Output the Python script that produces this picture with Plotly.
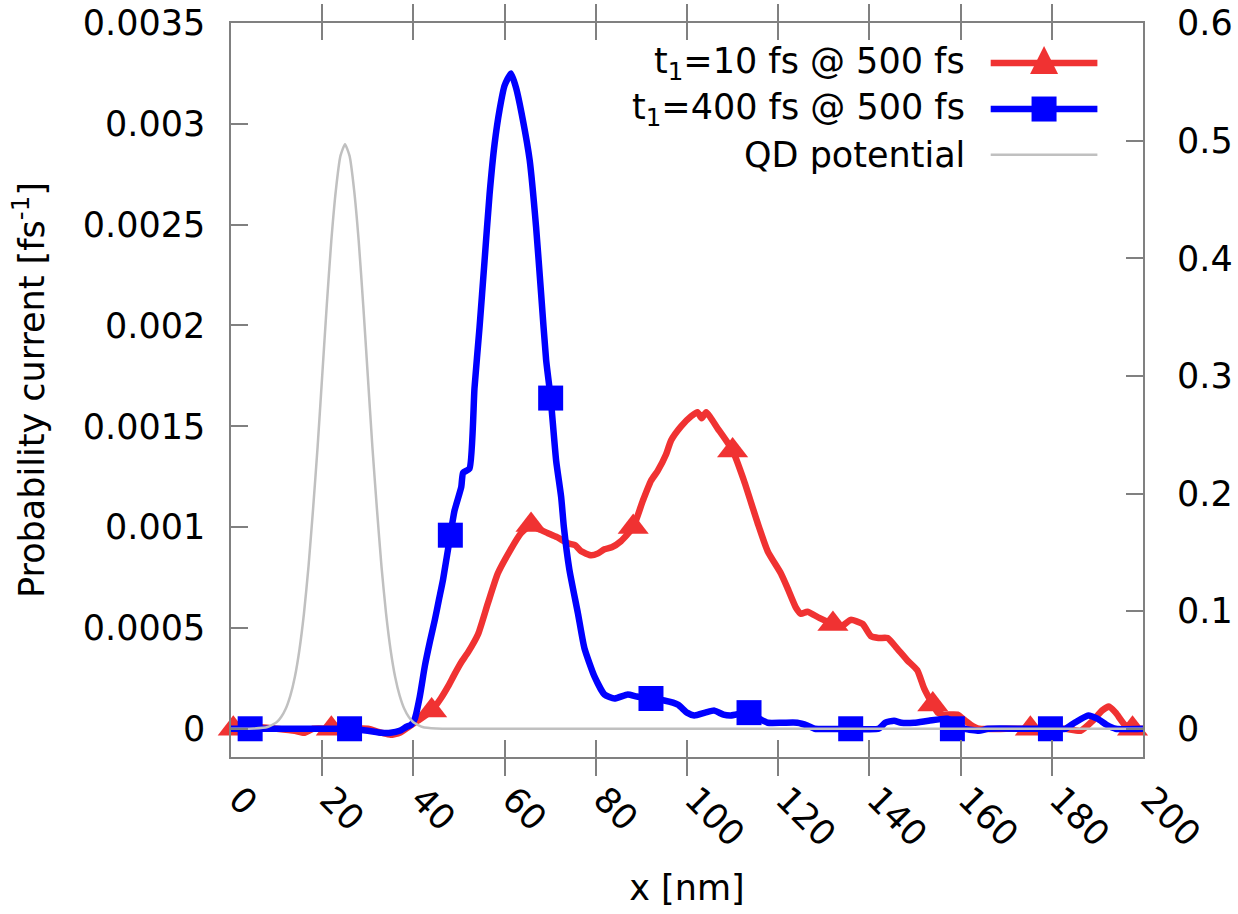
import plotly.graph_objects as go

# ---------------- data ----------------
red_x = [0, 5, 10, 14, 16, 18, 22, 26, 30, 33, 35, 37, 39, 41, 44, 46, 47.6, 49, 50.5, 52,
         54.2, 56.3, 58.5, 61.1, 63.6, 65.8, 67.5, 69.5, 71.5, 73.9, 75.5, 76.8, 79, 80.5,
         81.9, 83.5, 85.5, 88.2, 90.3, 92.1, 93.6, 95.4, 96.5, 98.7, 100.9, 102.3, 103.2,
         104.2, 106.7, 110, 112.5, 115.5, 117.7, 120.6, 122, 123.9, 125, 126.4, 129, 132,
         134, 135.9, 138.5, 140.3, 142, 144, 146, 148.3, 150.5, 152, 153.9, 155, 156.3,
         159.3, 161, 162.2, 164, 170, 176, 180, 183, 186.3, 189, 191, 192.5, 194, 196, 198, 200]
red_y = [0, 0.00001, 0.0, -0.00001, -0.00002, 0.0, 0.0, 0.0, 0.0, -0.00002, -0.00003, -0.00002,
         0.00001, 0.00004, 0.00009, 0.00015, 0.00021, 0.00027, 0.00033, 0.00038,
         0.00047, 0.00062, 0.00077, 0.00088, 0.00097, 0.00101, 0.00099, 0.00097, 0.00095,
         0.00092, 0.00091, 0.00088, 0.00086, 0.00087, 0.00089, 0.00090, 0.00093, 0.00100,
         0.00113, 0.00123, 0.00128, 0.00136, 0.00143, 0.00150, 0.00155, 0.00157, 0.00154,
         0.00157, 0.00149, 0.00138, 0.00123, 0.00102, 0.00088, 0.00077, 0.00070, 0.00060,
         0.00057, 0.00058, 0.00055, 0.00052, 0.00051, 0.00054, 0.00052, 0.00046, 0.00045,
         0.00045, 0.00040, 0.00034, 0.00029, 0.00020, 0.00012, 0.00008, 0.00007, 0.00007,
         0.00004, 0.00002, 0.0, 0.0, 0.0, 0.0, 0.0, -0.00001, 0.00004, 0.00009, 0.00011,
         0.00008, 0.00002, 0.0, 0.0]
red_mark_x = [0.5, 22, 44, 65.8, 88.2, 110, 132, 153.9, 175.3, 197.7]
red_mark_y = [0.0, 0.0, 0.00009, 0.00101, 0.00100, 0.00138, 0.00052, 0.00012, 0.0, 0.0]

blue_x = [0, 10, 20, 26, 30, 33, 35, 37, 38.5, 39.5, 40.3, 41.4, 42.5, 43.6, 44.7, 45.6, 46.5,
          48.1, 49, 50.5, 50.9, 52.3, 53.4, 54.5, 55.6, 56.7, 57.8, 58.9, 60, 61.4, 62.5,
          64, 65.5, 66.9, 68, 69.1, 70.1, 71.3, 72.4, 73, 74.2, 76.1, 77.5, 79.7, 81.9, 84.1,
          87, 89, 92.1, 95, 98, 100, 101.6, 104, 106, 108, 109.6, 113.6, 115, 117.7, 121,
          124.2, 126.4, 128, 135.9, 142, 143.5, 145.4, 147, 149.8, 153, 157.1, 159, 161, 164,
          166, 175, 179.7, 183, 185, 188, 190, 192, 194, 200]
blue_y = [0, 0, 0, 0, -0.00001, -0.00002, -0.00002, -0.00001, 0.00001, 0.00002, 0.00005,
          0.00016, 0.00031, 0.00043, 0.00054, 0.00064, 0.00074, 0.00096, 0.00108, 0.00120,
          0.00127, 0.00129, 0.00169, 0.00199, 0.00232, 0.00265, 0.00290, 0.00307, 0.00319,
          0.00325, 0.00318, 0.00302, 0.00282, 0.00249, 0.00216, 0.00183, 0.00164, 0.00133,
          0.00115, 0.00100, 0.00079, 0.00057, 0.00040, 0.00026, 0.00017, 0.00015, 0.00017,
          0.00016, 0.00015, 0.00014, 0.00012, 0.00008, 0.000066, 0.00008, 0.00009, 0.00007,
          0.000066, 0.00008, 0.00006, 0.00003, 0.00003, 0.00003, 0.000016, 0.0, 0.0, 0.0,
          0.00003, 0.00004, 0.00003, 0.00003, 0.00004, 0.00005, 0.00002, 0.0, -0.00001, 0.0,
          0.0, 0.0, 0.0, 0.00003, 0.000066, 0.00005, 0.00002, 0.0, 0.0]
blue_mark_x = [4.2, 26, 48.1, 70.1, 92.1, 113.6, 135.9, 158.2, 179.7]
blue_mark_y = [0.0, 0.0, 0.00096, 0.00164, 0.00015, 0.00008, 0.0, 0.0, 0.0]

qd_x = [0, 5, 8, 10, 11, 12, 13, 14, 15, 16, 17, 18, 19, 20, 21, 22, 23, 24, 25,
        26, 27, 28, 29, 30, 31, 32, 33, 34, 35, 36, 37, 38, 39, 40, 42, 45, 50, 200]
qd_y = [0.0, 0.0002, 0.0015, 0.0055, 0.010, 0.017, 0.028, 0.044, 0.067, 0.098, 0.138,
        0.187, 0.240, 0.300, 0.360, 0.415, 0.458, 0.487, 0.497,
        0.487, 0.458, 0.415, 0.360, 0.300, 0.240, 0.187, 0.138, 0.098, 0.067, 0.044,
        0.028, 0.017, 0.010, 0.0055, 0.0015, 0.0002, 0.0, 0.0]

x_tick_vals = [0, 20, 40, 60, 80, 100, 120, 140, 160, 180, 200]
y_tick_vals = [0, 0.0005, 0.001, 0.0015, 0.002, 0.0025, 0.003, 0.0035]
y_tick_text = ["0", "0.0005", "0.001", "0.0015", "0.002", "0.0025", "0.003", "0.0035"]
y2_tick_vals = [0, 0.1, 0.2, 0.3, 0.4, 0.5, 0.6]
y2_tick_text = ["0", "0.1", "0.2", "0.3", "0.4", "0.5", "0.6"]

series_names = ["t<sub>1</sub>=10 fs @ 500 fs", "t<sub>1</sub>=400 fs @ 500 fs", "QD potential"]

# ---------------- styles ----------------
RED = "#f03232"
BLUE = "#0000ff"
GRAY = "#c0c0c0"
FONT = "DejaVu Sans"
FS = 35
AXC = "#808080"
LW = 6.5

fig = go.Figure()

fig.add_trace(go.Scatter(x=qd_x, y=qd_y, yaxis="y2", mode="lines",
                         line=dict(color=GRAY, width=2.5, shape="spline", smoothing=0.5),
                         showlegend=False))
fig.add_trace(go.Scatter(x=red_x, y=red_y, mode="lines",
                         line=dict(color=RED, width=LW, shape="spline", smoothing=0.5),
                         showlegend=False))
fig.add_trace(go.Scatter(x=red_mark_x, y=red_mark_y, mode="markers", cliponaxis=False,
                         marker=dict(symbol="triangle-up", size=27, color=RED,
                                     line=dict(width=0)), showlegend=False))
fig.add_trace(go.Scatter(x=blue_x, y=blue_y, mode="lines",
                         line=dict(color=BLUE, width=LW, shape="spline", smoothing=0.5),
                         showlegend=False))
fig.add_trace(go.Scatter(x=blue_mark_x, y=blue_mark_y, mode="markers", cliponaxis=False,
                         marker=dict(symbol="square", size=25, color=BLUE,
                                     line=dict(width=0)), showlegend=False))

# ---------------- manual legend (gnuplot style: text left, sample right) ----------------
leg_text_x = 0.807
leg_x0, leg_x1 = 0.833, 0.950
leg_xm = (leg_x0 + leg_x1) / 2
leg_rows = [0.9455, 0.8828, 0.8205]
leg_colors = [RED, BLUE, GRAY]
leg_widths = [LW, LW, 2.5]
shapes = []
annotations = []
for name, yy, col, w in zip(series_names, leg_rows, leg_colors, leg_widths):
    annotations.append(dict(x=leg_text_x, y=yy, xref="paper", yref="paper", text=name,
                            showarrow=False, xanchor="right", yanchor="middle",
                            font=dict(family=FONT, size=FS, color="black")))
    shapes.append(dict(type="line", xref="paper", yref="paper", x0=leg_x0, x1=leg_x1,
                       y0=yy, y1=yy, line=dict(color=col, width=w)))
# legend symbols (pixel sizes converted to paper units: plot 912 x 734 px)
pw, ph = 912.0, 733.7
tw, th = 28 / pw, 28 / ph
ty = leg_rows[0] + 0.004
shapes.append(dict(type="path", xref="paper", yref="paper",
                   path=f"M {leg_xm - tw/2} {ty - th/2} L {leg_xm + tw/2} {ty - th/2} L {leg_xm} {ty + th/2} Z",
                   fillcolor=RED, line=dict(width=0)))
sw, sh = 25 / pw, 25 / ph
shapes.append(dict(type="rect", xref="paper", yref="paper",
                   x0=leg_xm - sw/2, x1=leg_xm + sw/2,
                   y0=leg_rows[1] - sh/2, y1=leg_rows[1] + sh/2,
                   fillcolor=BLUE, line=dict(width=0)))

fig.update_layout(
    width=1238, height=914,
    margin=dict(l=231, r=95, t=23, b=157),
    paper_bgcolor="white", plot_bgcolor="white",
    font=dict(family=FONT, size=FS, color="black"),
    showlegend=False,
    shapes=shapes, annotations=annotations,
    xaxis=dict(range=[0, 200], tickvals=x_tick_vals, ticks="inside", ticklen=17,
               tickcolor=AXC, tickwidth=1.5, showline=True, linecolor=AXC, linewidth=1.5,
               mirror="allticks", showgrid=False, zeroline=False, tickangle=45,
               ticklabelstandoff=6, ticklabelshift=8, automargin=False,
               title=dict(text="x [nm]", font=dict(family=FONT, size=FS), standoff=22)),
    yaxis=dict(range=[-0.00014, 0.0035], tickvals=y_tick_vals, ticktext=y_tick_text,
               ticks="inside", ticklen=17, tickcolor=AXC, tickwidth=1.5,
               showline=True, linecolor=AXC, linewidth=1.5, mirror=True,
               showgrid=False, zeroline=False, ticklabelstandoff=17, automargin=False,
               title=dict(text="Probability current [fs<sup>-1</sup>]",
                          font=dict(family=FONT, size=FS), standoff=28)),
    yaxis2=dict(range=[-0.024, 0.6], tickvals=y2_tick_vals, ticktext=y2_tick_text,
                overlaying="y", side="right", ticks="inside", ticklen=17,
                tickcolor=AXC, tickwidth=1.5, showline=False, showgrid=False,
                zeroline=False, ticklabelstandoff=33, automargin=False),
)

fig.write_html("out.html", config={"displayModeBar": False},
               post_script="document.body.style.margin='0';")
